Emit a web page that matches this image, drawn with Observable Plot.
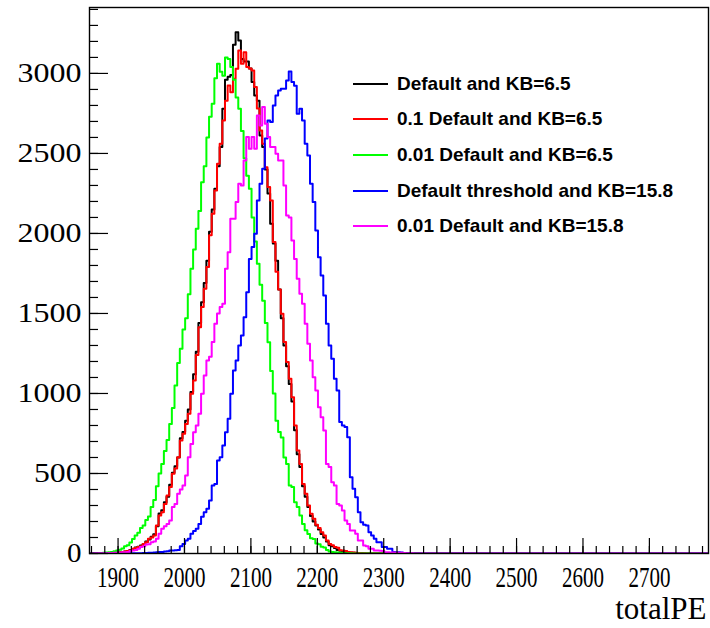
<!DOCTYPE html>
<html>
<head>
<meta charset="utf-8">
<script src="https://cdn.jsdelivr.net/npm/d3@7"></script>
<script src="https://cdn.jsdelivr.net/npm/@observablehq/plot@0.6"></script>
<style>
  body { margin: 0; background: #fff; }
  #chart { position: relative; width: 710px; height: 628px; }
  .legend { position: absolute; left: 353px; top: 66px; font-family: "Liberation Sans", Arial, sans-serif; font-weight: bold; font-size: 19px; color: #000; }
  .legend .row { display: flex; align-items: center; height: 35.6px; white-space: nowrap; }
  .legend .sw { width: 35px; height: 2px; margin-right: 9px; }
</style>
</head>
<body>
<div id="chart"></div>
<script>
// Histogram binning of totalPE: 233 bins of width 4 starting at 1857
const binStart = 1857;
const binWidth = 4;
const nBins = 233;

const seriesNames = [
  "Default and KB=6.5",
  "0.1 Default and KB=6.5",
  "0.01 Default and KB=6.5",
  "Default threshold and KB=15.8",
  "0.01 Default and KB=15.8"
];
const seriesColors = ["#000000", "#ff0000", "#00ff00", "#0000ff", "#ff00ff"];

// Bin contents from the first bin; bins not listed are empty
const countsDefaultKB65 = [0,0,0,1,1,2,3,3,4,5,7,8,10,12,16,22,28,38,42,50,58,75,88,105,120,170,250,270,320,355,430,505,545,600,720,760,830,900,1010,1120,1260,1440,1570,1690,1830,2010,2150,2280,2420,2540,2780,2960,2980,2990,3179,3258,3206,3090,3075,3075,3031,2946,2862,2830,2612,2540,2400,2250,2060,1937,1830,1650,1470,1300,1170,1060,950,770,620,540,420,355,290,235,200,175,150,122,100,75,52,45,35,22,17,12,10,7,5,4,3,2,1];
const counts01KB65 = [0,0,0,1,1,2,2,3,4,5,6,8,10,12,15,20,29,35,40,45,60,71,92,100,112,175,237,258,310,362,415,498,531,602,706,748,810,873,998,1081,1240,1414,1540,1654,1790,1988,2123,2269,2435,2560,2706,2830,2925,2883,2967,3029,3144,3060,3133,3040,3031,3019,2915,2781,2644,2560,2414,2290,2206,1946,1760,1650,1498,1321,1196,1092,977,800,644,560,435,373,300,248,217,180,160,133,112,81,60,52,40,36,20,18,15,9,8,6,5,3,2,1];
const counts001KB65 = [0,0,1,2,3,4,6,8,10,14,18,24,32,45,52,68,90,112,130,160,175,210,232,290,335,420,500,560,640,710,810,910,1050,1190,1280,1400,1470,1620,1780,1900,2030,2140,2320,2420,2600,2730,2810,2970,3060,3010,2985,3100,3090,3040,2960,2850,2780,2640,2470,2360,2280,2100,1950,1810,1680,1580,1440,1320,1140,1000,830,760,725,600,560,425,415,320,290,237,185,145,122,95,90,62,58,42,38,22,12,10,8,6,4,3,2,1,1];
const countsThresholdKB158 = [0,0,0,0,0,0,0,0,0,0,0,0,0,1,1,1,1,2,2,2,3,3,4,5,6,8,10,10,12,14,18,19,20,22,45,60,81,92,123,140,154,185,230,258,279,331,425,435,581,602,675,758,842,998,1144,1206,1300,1362,1477,1633,1841,1915,1998,2206,2310,2404,2594,2706,2696,2800,2862,2894,2904,2904,2956,3012,2946,2923,2748,2779,2706,2560,2487,2310,2196,2019,1852,1737,1612,1435,1300,1217,1092,1019,821,800,790,727,477,404,352,258,196,180,175,133,112,92,71,71,40,40,29,29,10,8,8,6,3,2,1];
const counts001KB158 = [0,0,1,1,1,2,2,3,3,4,4,6,8,8,10,15,19,22,30,40,45,56,58,71,75,92,123,154,170,185,206,290,310,373,400,425,488,602,685,758,800,873,998,1112,1206,1230,1321,1435,1500,1540,1560,1779,1883,2092,2092,2196,2310,2300,2456,2602,2529,2602,2529,2737,2675,2790,2685,2602,2540,2540,2498,2456,2456,2300,2112,2100,1956,1841,1717,1623,1560,1435,1310,1206,1102,1019,914,852,769,560,540,446,425,310,300,269,206,185,144,144,123,81,81,50,45,29,29,19,19,17,15,8,8,7,6,5,5,4,3,2,2,1];

const allCounts = [countsDefaultKB65, counts01KB65, counts001KB65, countsThresholdKB158, counts001KB158];

// Axis ticks
const xMajorTicks = [1900, 2000, 2100, 2200, 2300, 2400, 2500, 2600, 2700];
const xMinorTicks = d3.range(1860, 2789, 20);
const yMajorTicks = [0, 500, 1000, 1500, 2000, 2500, 3000];
const yMinorTicks = d3.range(0, 3401, 100);
const xDomain = [binStart, binStart + nBins * binWidth];
const yDomain = [0, 3412];

// Step outline points for one histogram: each bin's left edge, plus the right edge of the last bin
function outline(counts, name) {
  const pts = [];
  for (let k = 0; k < nBins; k++) pts.push({x: binStart + k * binWidth, y: counts[k] ?? 0, s: name});
  pts.push({x: binStart + nBins * binWidth, y: counts[nBins - 1] ?? 0, s: name});
  return pts;
}

const frameW = 710 - 89 - 2;
const frameH = 628 - 7 - 75;

const lineMarks = allCounts.map((c, i) =>
  Plot.line(outline(c, seriesNames[i]), {x: "x", y: "y", curve: "step-after", stroke: seriesColors[i], strokeWidth: 2, clip: true})
);

const plot = Plot.plot({
  width: 710,
  height: 628,
  marginLeft: 89,
  marginRight: 2,
  marginTop: 7,
  marginBottom: 75,
  style: {fontFamily: "'Liberation Serif', 'Times New Roman', serif", fontSize: "28px", background: "#fff", color: "#000"},
  x: {domain: xDomain},
  y: {domain: yDomain},
  marks: [
    ...lineMarks,
    Plot.frame({stroke: "#000", strokeWidth: 1.4}),
    Plot.tickX(xMinorTicks, {x: d => d, stroke: "#000", strokeWidth: 1.2, insetTop: frameH - 7}),
    Plot.tickX(xMajorTicks, {x: d => d, stroke: "#000", strokeWidth: 1.2, insetTop: frameH - 15}),
    Plot.tickY(yMinorTicks, {y: d => d, stroke: "#000", strokeWidth: 1.2, insetRight: frameW - 9}),
    Plot.tickY(yMajorTicks, {y: d => d, stroke: "#000", strokeWidth: 1.2, insetRight: frameW - 19}),
    Plot.axisX({ticks: xMajorTicks, tickSize: 0, tickPadding: 12, label: null, fontSize: 30, tickFormat: d => String(d)}),
    Plot.axisY({ticks: yMajorTicks, tickSize: 0, tickPadding: 8, label: null, tickFormat: d => String(d)}),
    Plot.text(["totalPE"], {frameAnchor: "bottom-right", textAnchor: "end", dx: -2, dy: 65, fontSize: 31, fill: "#000"})
  ]
});

// Tick label widths of the serif digits
d3.select(plot).selectAll('g[aria-label="y-axis tick label"] text').each(function() {
  const t = this.textContent;
  d3.select(this).attr("textLength", t.length * 16.5 - 2).attr("lengthAdjust", "spacingAndGlyphs");
});
d3.select(plot).selectAll('g[aria-label="x-axis tick label"] text').each(function() {
  const t = this.textContent;
  d3.select(this).attr("font-size", 30).attr("textLength", t.length * 10.5).attr("lengthAdjust", "spacingAndGlyphs");
});

const chart = document.getElementById("chart");
chart.appendChild(plot);

// Legend with line swatches inside the frame
const legend = document.createElement("div");
legend.className = "legend";
seriesNames.forEach((name, i) => {
  const row = document.createElement("div");
  row.className = "row";
  const sw = document.createElement("div");
  sw.className = "sw";
  sw.style.background = seriesColors[i];
  const label = document.createElement("span");
  label.textContent = name;
  row.appendChild(sw);
  row.appendChild(label);
  legend.appendChild(row);
});
chart.appendChild(legend);
</script>
</body>
</html>
